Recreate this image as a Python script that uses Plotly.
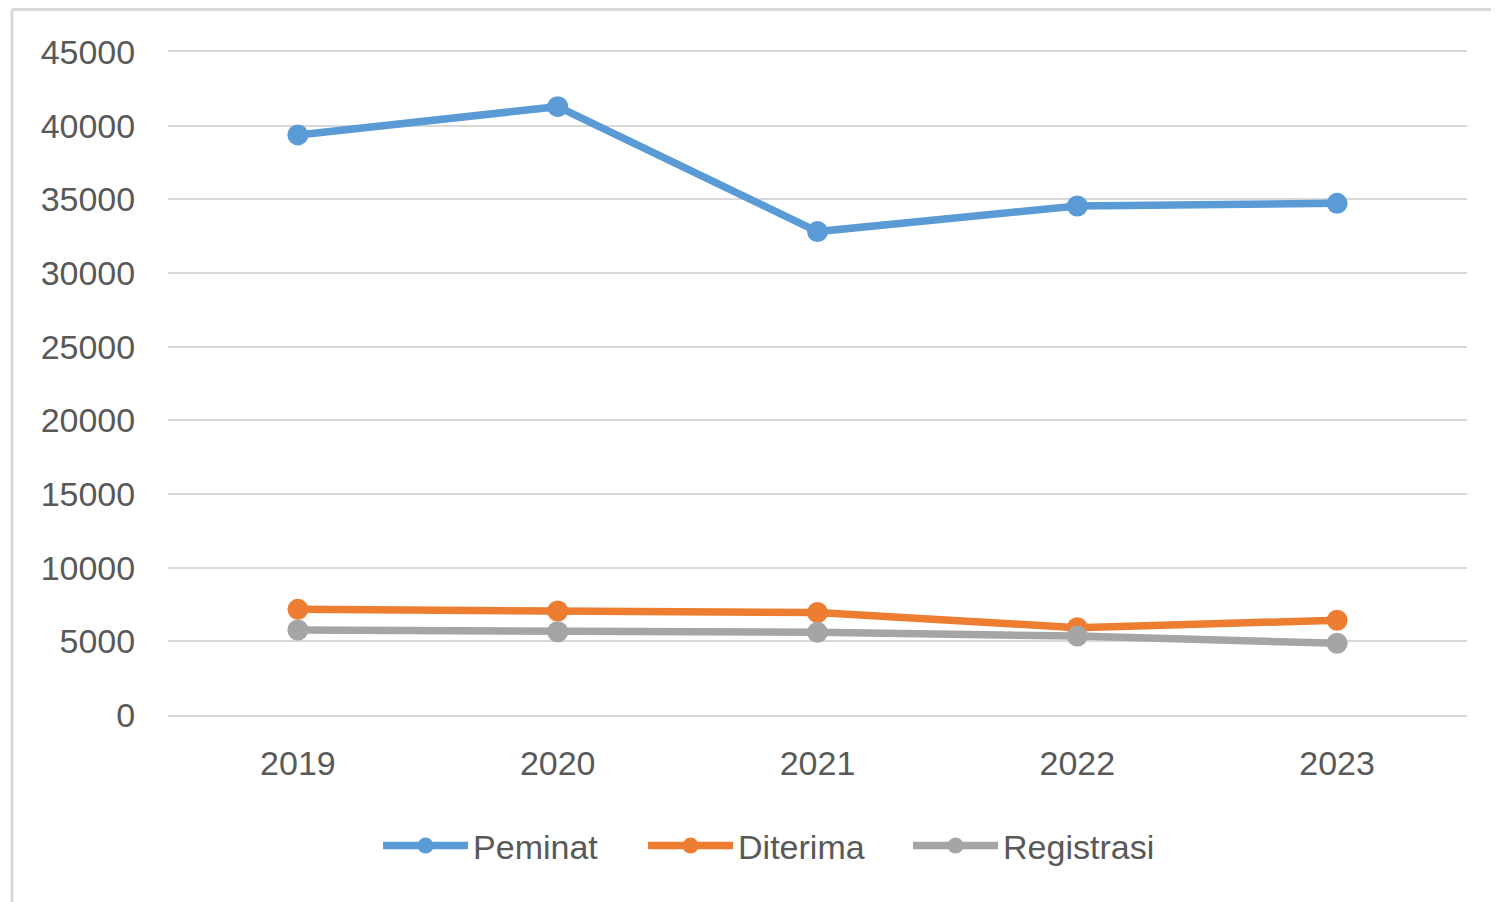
import plotly.graph_objects as go

years = ["2019", "2020", "2021", "2022", "2023"]
peminat = [39370, 41290, 32810, 34550, 34730]
diterima = [7170, 7060, 6950, 5930, 6430]
registrasi = [5770, 5650, 5610, 5360, 4870]

series = [
    ("Peminat", peminat, "#5B9BD5"),
    ("Diterima", diterima, "#ED7D31"),
    ("Registrasi", registrasi, "#A5A5A5"),
]

fig = go.Figure()
for name, vals, color in series:
    fig.add_trace(go.Scatter(
        x=years, y=vals, name=name, mode="lines+markers",
        line=dict(color=color, width=7.5),
        marker=dict(color=color, size=21),
    ))

font_color = "#595959"
fig.update_layout(
    width=1499, height=902,
    margin=dict(l=160, r=40, t=44, b=195),
    paper_bgcolor="white", plot_bgcolor="white",
    font=dict(family="Liberation Sans, Arial, sans-serif", size=34, color=font_color),
    showlegend=True,
    legend=dict(orientation="h", x=0.1617, y=-0.1976, xanchor="left", yanchor="middle",
                font=dict(size=34, color=font_color), itemwidth=85,
                entrywidth=165, entrywidthmode="pixels", traceorder="normal"),
    xaxis=dict(type="category", range=[-0.5, 4.5], showgrid=False, zeroline=False,
               showline=True, mirror=True, linecolor="#D9D9D9", linewidth=2,
               ticks="outside", ticklen=17, tickcolor="rgba(0,0,0,0)",
               tickfont=dict(size=34, color=font_color)),
    yaxis=dict(range=[0, 45000], dtick=5000, showgrid=True, gridcolor="#D9D9D9", gridwidth=2,
               zeroline=False, showline=False, ticks="outside", ticklen=25,
               tickcolor="rgba(0,0,0,0)", tickformat="d",
               tickfont=dict(size=34, color=font_color)),
    shapes=[
        dict(type="line", xref="paper", yref="paper", x0=-0.1201, x1=1.05, y0=1.0641, y1=1.0641,
             line=dict(color="#D9D9D9", width=3)),
        dict(type="line", xref="paper", yref="paper", x0=-0.1201, x1=-0.1201, y0=-0.32, y1=1.0641,
             line=dict(color="#D9D9D9", width=3)),
    ],
)

fig.write_html("out.html")
